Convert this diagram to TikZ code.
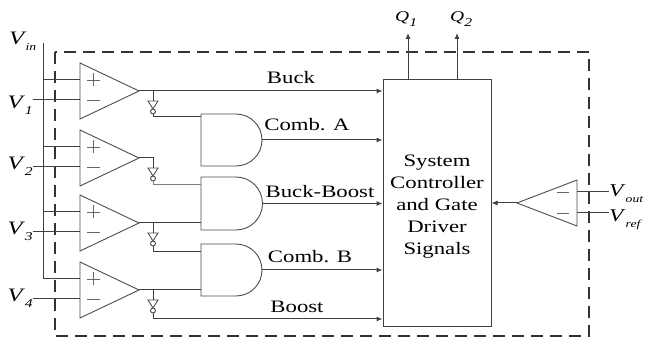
\documentclass[tikz,border=0pt]{standalone}
\usepackage{fontspec}
\setmainfont[FakeStretch=1.3]{Liberation Serif}
\usetikzlibrary{arrows.meta,calc}
\newcommand{\mysub}[1]{\raisebox{-0.3em}{\fontsize{12}{12}\selectfont\itshape #1}}
\newcommand{\mysubs}[1]{\raisebox{-0.3em}{\fontsize{10.5}{11}\selectfont\itshape #1}}
\begin{document}
\begin{tikzpicture}[x=1pt,y=-1pt,
  wire/.style={draw=black!75,line width=1pt},
  arr/.style={wire,-{Latex[length=6pt,width=5pt]}},
  cmp/.style={draw=black!70,line width=0.9pt},
  sgn/.style={draw=black!60,line width=0.9pt},
  sig/.style={font=\fontsize{17.5}{20}\selectfont,inner sep=0pt,anchor=base},
  vlab/.style={font=\fontsize{19}{20}\selectfont,inner sep=0pt,anchor=base east},
  rlab/.style={font=\fontsize{18}{20}\selectfont,inner sep=0pt,anchor=base west},
  qlab/.style={font=\fontsize{15}{16}\selectfont,inner sep=0pt,anchor=base west},
  dashbox/.style={draw=black!80,line width=2pt,dash pattern=on 12pt off 7pt},
  sysbox/.style={draw=black!75,line width=1pt,minimum width=108pt,minimum height=247pt,inner sep=0pt}
]
\useasboundingbox (0,0) rectangle (646,339);

% dashed enclosure
\draw[dashbox] (55,52) rectangle (589,336);

% system controller box
\node[sysbox] (sys) at (437,203.5) {};
\node[font=\fontsize{17.5}{22}\selectfont,align=center,inner sep=0pt,yshift=-3.5pt] (systxt) at (sys.center)
  {System\\Controller\\and Gate\\Driver\\Signals};

% comparators
\foreach \n/\tp in {1/63,2/130,3/195,4/262}{
  \draw[cmp] (80,\tp) -- (139,\tp+28) -- (80,\tp+56) -- cycle;
  \draw[sgn] (87,\tp+17) -- (100,\tp+17) (93.5,\tp+10.5) -- (93.5,\tp+23.5);
  \draw[sgn] (87,\tp+37) -- (100,\tp+37);
  \coordinate (c\n p) at (80,\tp+17);
  \coordinate (c\n m) at (80,\tp+37);
  \coordinate (c\n o) at (139,\tp+28);
}

% V_in rail
\node[font=\fontsize{19}{20}\selectfont,inner sep=0pt,anchor=base west] (vinl) at (9,45) {\textit{V}\kern-1pt\mysubs{in}};
\coordinate (vin) at (43,43);
\draw[wire] (vin) -- (vin |- c4p);
\foreach \n in {1,...,4}{\draw[wire] (vin |- c\n p) -- (c\n p);}

% V1..V4 inputs
\node[vlab] (v1) at (33,109) {\textit{V}\mysub{1}};
\node[vlab] (v2) at (33,170) {\textit{V}\mysub{2}};
\node[vlab] (v3) at (33,235) {\textit{V}\mysub{3}};
\node[vlab] (v4) at (33,302) {\textit{V}\mysub{4}};
\foreach \n in {1,...,4}{\draw[wire] (v\n.east |- c\n m) -- (c\n m);}

% inverters
\foreach \n/\oy/\dy in {1/91/117,2/158/185,3/223/252,4/290/319}{
  \coordinate (i\n t) at (153,\oy+10);
  \draw[cmp] (148,\oy+10) -- (158,\oy+10) -- (153,\oy+18) -- cycle;
  \draw[cmp] (153,\oy+20.5) circle[radius=2.5];
  \coordinate (i\n o) at (153,\oy+23);
  \coordinate (i\n d) at (153,\dy);
}

% AND gates
\foreach \g/\tp/\r in {A/114/26,B/177/26.5,C/244/26}{
  \draw[cmp] (201,\tp) -- (236,\tp) arc[start angle=-90,end angle=90,radius=\r] -- (201,\tp+2*\r) -- cycle;
  \coordinate (g\g o) at (236+\r,\tp+\r);
}
\coordinate (gA1) at (201,117);
\coordinate (gB1) at (201,185);
\coordinate (gB2) at (201,223);
\coordinate (gC1) at (201,252);
\coordinate (gC2) at (201,290);

% comparator outputs
\draw[arr] (c1o) -- (c1o -| sys.west);
\draw[wire] (i1t |- c1o) -- (i1t);
\draw[wire] (c2o) -| (i2t);
\draw[wire] (c3o) -- (gB2);
\draw[wire] (i3t |- c3o) -- (i3t);
\draw[wire] (c4o) -- (gC2);
\draw[wire] (i4t |- c4o) -- (i4t);

% inverter outputs
\draw[wire] (i1o) |- (gA1);
\draw[wire,draw=black!50] (i2o) |- (gB1);
\draw[wire] (i3o) |- (gC1);
\draw[arr] (i4o) -- (i4d) -- (i4d -| sys.west);

% gate outputs
\draw[arr] (gAo) -- (gAo -| sys.west);
\draw[arr] (gBo) -- (gBo -| sys.west);
\draw[arr] (gCo) -- (gCo -| sys.west);

% signal labels
\node[sig] (lbuck) at (291,84) {Buck};
\node[sig] (lca) at (307,131) {Comb. A};
\node[sig] (lbb) at (320,198) {Buck-Boost};
\node[sig] (lcb) at (310,263) {Comb. B};
\node[sig] (lboost) at (297,313) {Boost};

% outputs Q1, Q2
\node[qlab] (q1) at (395,22) {\textit{Q}\mysub{1}};
\node[qlab] (q2) at (450,22) {\textit{Q}\mysub{2}};
\coordinate (q1t) at (408,33);
\coordinate (q2t) at (457,33);
\draw[arr] (sys.north -| q1t) -- (q1t);
\draw[arr] (sys.north -| q2t) -- (q2t);

% error amplifier on the right
\draw[cmp] (577,180) -- (517,203) -- (577,226) -- cycle;
\draw[sgn] (557,192) -- (569,192);
\draw[sgn] (557,213) -- (569,213);
\coordinate (eo) at (517,203);
\coordinate (ei1) at (577,192);
\coordinate (ei2) at (577,213);
\node[rlab] (vout) at (609,197) {\textit{V}\mysubs{out}};
\node[rlab] (vref) at (609,222) {\textit{V}\mysubs{ref}};
\draw[wire] (ei1) -- (ei1 -| vout.west);
\draw[wire] (ei2) -- (ei2 -| vref.west);
\draw[arr] (eo) -- (eo -| sys.east);
\end{tikzpicture}
\end{document}
